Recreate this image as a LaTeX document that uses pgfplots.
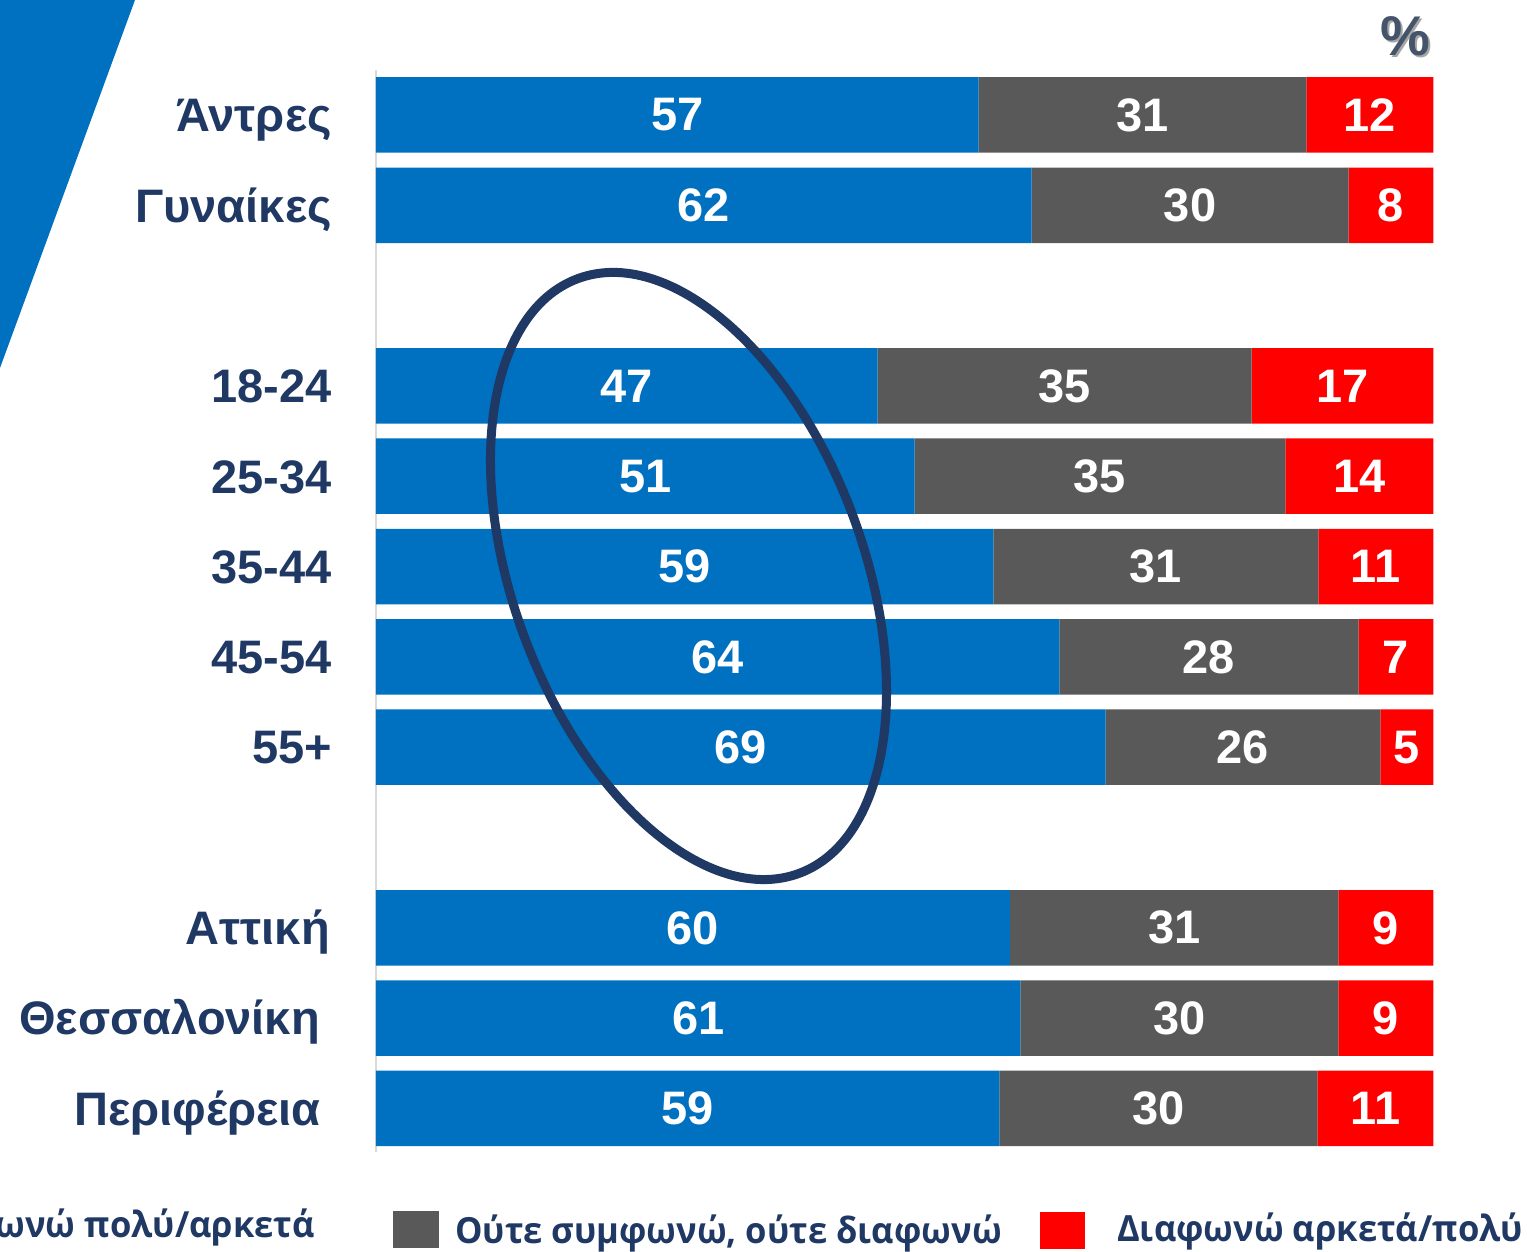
\documentclass[border=0pt]{standalone}
\usepackage{pgfplots}
\pgfplotsset{compat=1.18}
\usepackage{pgfplotstable}
\usepackage{fontspec}
\setmainfont{Liberation Sans}
\newfontfamily\legfont[FakeStretch=0.96]{Open Sans}
\definecolor{cblue}{HTML}{0070C0}
\definecolor{cgray}{HTML}{595959}
\definecolor{cred}{HTML}{FF0000}
\definecolor{navy}{HTML}{1F3864}
\definecolor{pct}{HTML}{44546A}
\definecolor{axgray}{HTML}{D9D9D9}

\pgfplotstableread{
y  agree neutral disagree la lb lc
11 57.0  31.0  12.0  57 31 12
10 62.0  30.0   8.0  62 30 8
8  47.45 35.37 17.18 47 35 17
7  50.94 35.06 14.0  51 35 14
6  58.38 30.74 10.88 59 31 11
5  64.63 28.30  7.07 64 28 7
4  69.0  26.0   5.0  69 26 5
2  59.96 31.06  8.98 60 31 9
1  60.94 30.08  8.98 61 30 9
0  58.95 30.08 10.97 59 30 11
}\data
\pgfplotstablecreatecol[create col/expr={\thisrow{agree}/2}]{ca}\data
\pgfplotstablecreatecol[create col/expr={\thisrow{agree}+\thisrow{neutral}/2}]{cb}\data
\pgfplotstablecreatecol[create col/expr={\thisrow{agree}+\thisrow{neutral}+\thisrow{disagree}/2}]{cc}\data

\pgfplotsset{
  common/.style={
    at={(376pt,100pt)}, anchor=south west,
    scale only axis, width=1057.3pt, height=1082pt,
    xmin=0, xmax=100, ymin=-0.482, ymax=11.498,
    clip=false,
  },
  lab/.style={draw=none, mark=none, point meta=explicit symbolic, nodes near coords,
    every node near coord/.append style={anchor=center, inner sep=0pt, text=white,
      font=\bfseries\fontsize{47}{52}\selectfont}},
}

\begin{document}
\begin{tikzpicture}[x=1pt,y=1pt]
\useasboundingbox (0,0) rectangle (1527,1252);
\clip (0,0) rectangle (1527,1252);
\fill[cblue] (0,1252) -- (135,1252) -- (0,884) -- cycle;
\begin{axis}[
  common,
  xbar stacked, bar width=75.5pt,
  axis x line=none, axis y line*=left,
  y axis line style={draw=axgray, line width=2pt},
  major tick length=0pt,
  ytick={0,1,2,4,5,6,7,8,10,11},
  yticklabels={Περιφέρεια\kern11pt, Θεσσαλονίκη\kern12pt, Αττική\kern2pt, 55+, 45-54, 35-44, 25-34, 18-24, Γυναίκες, Άντρες},
  yticklabel style={anchor=base east, inner sep=0pt, xshift=-44pt, yshift=-16.8pt,
    text=navy, font=\bfseries\fontsize{47}{52}\selectfont},
]
\addplot[fill=cblue, draw=none] table[x=agree, y=y] {\data};
\addplot[fill=cgray, draw=none] table[x=neutral, y=y] {\data};
\addplot[fill=cred, draw=none] table[x=disagree, y=y] {\data};
\end{axis}
\begin{axis}[common, hide axis]
\addplot[lab] table[x=ca, y=y, meta=la] {\data};
\addplot[lab] table[x=cb, y=y, meta=lb] {\data};
\addplot[lab] table[x=cc, y=y, meta=lc] {\data};
\end{axis}
\draw[line width=9pt, navy, rotate around={-69.55:(688.5,676)}] (688.5,676) ellipse (317.3pt and 175.1pt);
\node[text=black!35, font=\bfseries\fontsize{56}{60}\selectfont] at (1407.5,1213.5) {\%};
\node[text=pct, font=\bfseries\fontsize{56}{60}\selectfont] at (1405,1216) {\%};
\node[anchor=base east, text=navy, inner sep=0pt, font=\legfont\bfseries\fontsize{36}{40}\selectfont] at (315,14) {Συμφωνώ πολύ/αρκετά};
\fill[cgray] (393,4) rectangle (439,41);
\node[anchor=base west, text=navy, inner sep=0pt, font=\legfont\bfseries\fontsize{36}{40}\selectfont] at (455,8) {Ούτε συμφωνώ, ούτε διαφωνώ};
\fill[cred] (1040,3) rectangle (1085,40);
\node[anchor=base west, text=navy, inner sep=0pt, font=\legfont\bfseries\fontsize{36}{40}\selectfont] at (1117,10) {Διαφωνώ αρκετά/πολύ};
\end{tikzpicture}
\end{document}
